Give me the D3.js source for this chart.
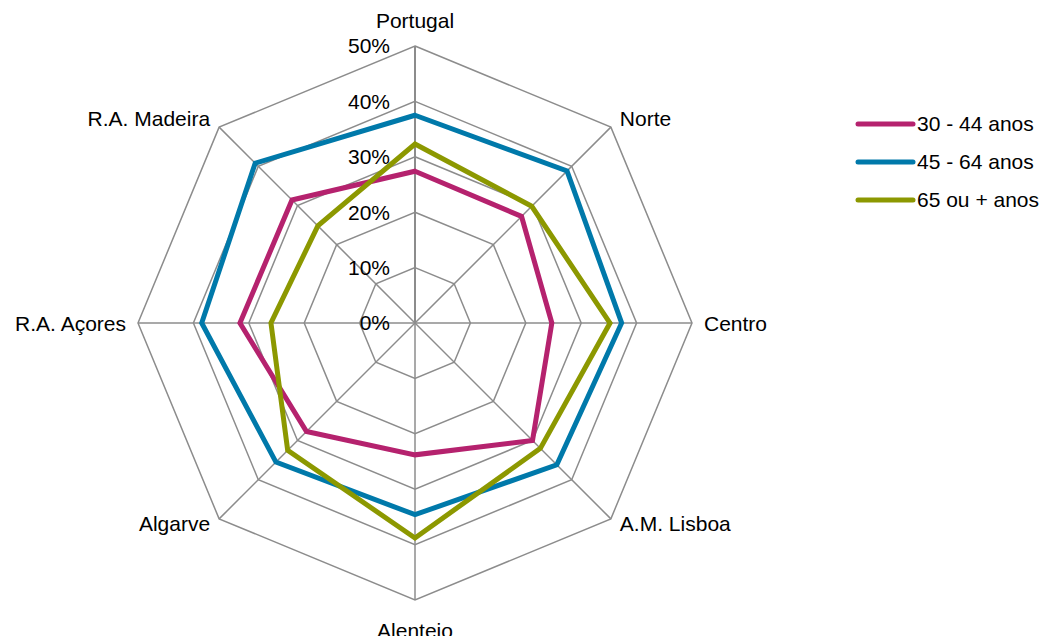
<!DOCTYPE html>
<html>
<head>
<meta charset="utf-8">
<script src="https://cdn.jsdelivr.net/npm/d3@7"></script>
<style>
  body { margin: 0; background: #fff; }
  text { font-family: "Liberation Sans", Arial, sans-serif; font-size: 21px; fill: #000; }
</style>
</head>
<body>
<svg id="radar" width="1051" height="636"></svg>
<script>
// regions around the chart, clockwise from the top
const regions = ['Portugal', 'Norte', 'Centro', 'A.M. Lisboa', 'Alentejo', 'Algarve', 'R.A. Açores', 'R.A. Madeira'];
const ticks = [0, 0.1, 0.2, 0.3, 0.4, 0.5];

const seriesNames = ['30 - 44 anos', '45 - 64 anos', '65 ou + anos'];
const seriesColors = ['#b5226e', '#0079aa', '#8c9800'];

// values
const age30to44 = [0.274, 0.272, 0.247, 0.300, 0.238, 0.277, 0.316, 0.314];
const age45to64 = [0.375, 0.388, 0.373, 0.362, 0.346, 0.355, 0.385, 0.408];
const age65plus = [0.323, 0.298, 0.352, 0.320, 0.388, 0.325, 0.260, 0.248];

const seriesValues = [age30to44, age45to64, age65plus];

const svg = d3.select('svg#radar');
const cx = 415, cy = 323, radius = 277;

const r = d3.scaleLinear().domain([0, 0.5]).range([0, radius]);
const angle = d3.scalePoint().domain(regions).range([0, 2 * Math.PI * (regions.length - 1) / regions.length]);

function pt(region, v) {
    const a = angle(region);
    return [cx + r(v) * Math.sin(a), cy - r(v) * Math.cos(a)];
}

const g = svg.append('g');

// grid octagons
g.selectAll('.grid')
    .data(ticks.slice(1))
    .enter().append('polygon')
    .attr('class', 'grid')
    .attr('points', function(t) { return regions.map(d => pt(d, t).join(',')).join(' '); })
    .attr('fill', 'none')
    .attr('stroke', '#8c8c8c')
    .attr('stroke-width', 1.5);

// spokes
g.selectAll('.spoke')
    .data(regions)
    .enter().append('line')
    .attr('class', 'spoke')
    .attr('x1', cx).attr('y1', cy)
    .attr('x2', d => pt(d, 0.5)[0])
    .attr('y2', d => pt(d, 0.5)[1])
    .attr('stroke', '#8c8c8c')
    .attr('stroke-width', (d, i) => i === 0 ? 2 : 1.5);

// tick labels along the top spoke
g.selectAll('.tick')
    .data(ticks)
    .enter().append('text')
    .attr('class', 'tick')
    .attr('x', cx - 25)
    .attr('y', d => cy - r(d))
    .attr('dy', '0.35em')
    .attr('text-anchor', 'end')
    .text(d3.format('.0%'));

// series
const line = d3.line();
seriesValues.forEach(function(vals, s) {
    const pts = regions.map((d, i) => pt(d, vals[i]));
    g.append('path')
        .attr('d', line(pts) + 'Z')
        .attr('fill', 'none')
        .attr('stroke', seriesColors[s])
        .attr('stroke-width', 5)
        .attr('stroke-linejoin', 'miter');
});

// category labels
const labelPos = [
    {dx: 0, dy: -18, anchor: 'middle', base: 'alphabetic'},
    {dx: 9, dy: -9, anchor: 'start', base: 'central'},
    {dx: 12, dy: 0, anchor: 'start', base: 'central'},
    {dx: 9, dy: 5, anchor: 'start', base: 'central'},
    {dx: 0, dy: 38, anchor: 'middle', base: 'alphabetic'},
    {dx: -9, dy: 5, anchor: 'end', base: 'central'},
    {dx: -12, dy: 0, anchor: 'end', base: 'central'},
    {dx: -9, dy: -9, anchor: 'end', base: 'central'}
];
g.selectAll('.cat')
    .data(regions)
    .enter().append('text')
    .attr('class', 'cat')
    .attr('x', (d, i) => pt(d, 0.5)[0] + labelPos[i].dx)
    .attr('y', (d, i) => pt(d, 0.5)[1] + labelPos[i].dy)
    .attr('text-anchor', (d, i) => labelPos[i].anchor)
    .attr('dominant-baseline', (d, i) => labelPos[i].base)
    .text(d => d);

// legend
const legend = svg.append('g').attr('transform', 'translate(858,124)');
const item = legend.selectAll('.item')
    .data(seriesNames)
    .enter().append('g')
    .attr('class', 'item')
    .attr('transform', (d, i) => 'translate(0,' + (i * 38) + ')');
item.append('line')
    .attr('x1', 0).attr('x2', 55)
    .attr('stroke', (d, i) => seriesColors[i])
    .attr('stroke-width', 5)
    .attr('stroke-linecap', 'round');
item.append('text')
    .attr('x', 59)
    .attr('dy', '0.35em')
    .text(d => d);
</script>
</body>
</html>
